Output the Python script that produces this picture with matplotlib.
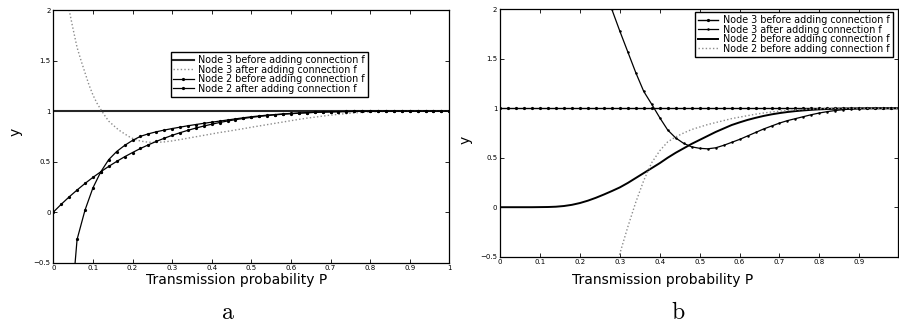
import matplotlib
matplotlib.use("Agg")
import matplotlib.pyplot as plt
from matplotlib.ticker import FuncFormatter

plt.rcParams['font.family'] = ['DejaVu Sans']
plt.rcParams['mathtext.fontset'] = 'cm'

# transmission probability grid (step 0.02)
p_grid = [0.00, 0.02, 0.04, 0.06, 0.08, 0.10, 0.12, 0.14, 0.16, 0.18,
          0.20, 0.22, 0.24, 0.26, 0.28, 0.30, 0.32, 0.34, 0.36, 0.38,
          0.40, 0.42, 0.44, 0.46, 0.48, 0.50, 0.52, 0.54, 0.56, 0.58,
          0.60, 0.62, 0.64, 0.66, 0.68, 0.70, 0.72, 0.74, 0.76, 0.78,
          0.80, 0.82, 0.84, 0.86, 0.88, 0.90, 0.92, 0.94, 0.96, 0.98, 1.00]

# --- panel a ---
a_node3_before = [1.0] * len(p_grid)

a_node3_after_p = [0.03, 0.04, 0.05, 0.06, 0.07, 0.08, 0.09, 0.10, 0.11, 0.12,
                   0.13, 0.14, 0.15, 0.16, 0.17, 0.18, 0.19, 0.20] + p_grid[11:]
a_node3_after = [2.30, 2.00, 1.81, 1.63, 1.50, 1.38, 1.26, 1.16, 1.08, 1.015,
                 0.955, 0.90, 0.865, 0.83, 0.80, 0.775, 0.75, 0.73,
                 0.703, 0.692, 0.690, 0.695, 0.705, 0.718, 0.732, 0.746, 0.76, 0.774,
                 0.788, 0.80, 0.813, 0.826, 0.84, 0.853, 0.866, 0.879, 0.892, 0.905,
                 0.918, 0.93, 0.94, 0.95, 0.96, 0.968, 0.975, 0.982, 0.988, 0.992,
                 0.995, 0.997, 0.998, 0.999, 1.0, 1.0, 1.0, 1.0, 1.0, 1.0]

a_node2_before = [0.000, 0.078, 0.151, 0.219, 0.284, 0.344, 0.400, 0.453, 0.502, 0.548,
                  0.590, 0.630, 0.666, 0.700, 0.731, 0.760, 0.786, 0.810, 0.832, 0.852,
                  0.870, 0.887, 0.902, 0.915, 0.927, 0.938, 0.947, 0.955, 0.963, 0.969,
                  0.974, 0.979, 0.983, 0.987, 0.990, 0.992, 0.994, 0.995, 0.997, 0.998,
                  0.998, 0.999, 0.999, 1.0, 1.0, 1.0, 1.0, 1.0, 1.0, 1.0, 1.0]

a_node2_after = [-4.0, -1.20, -0.27, 0.02, 0.24, 0.40, 0.52, 0.60, 0.66,
                 0.71, 0.75, 0.775, 0.795, 0.812, 0.827, 0.841, 0.855, 0.867, 0.879,
                 0.890, 0.901, 0.912, 0.923, 0.934, 0.944, 0.952, 0.960, 0.966, 0.972,
                 0.977, 0.981, 0.985, 0.988, 0.991, 0.993, 0.995, 0.996, 0.997, 0.998,
                 0.999, 0.999, 1.0, 1.0, 1.0, 1.0, 1.0, 1.0, 1.0, 1.0, 1.0]

# --- panel b ---
b_node3_before = [1.0] * len(p_grid)

b_node3_after = [2.55, 2.25, 2.00, 1.78, 1.57, 1.36, 1.17, 1.04, 0.905, 0.78,
                 0.70, 0.645, 0.61, 0.595, 0.59, 0.60, 0.625, 0.655, 0.685, 0.72,
                 0.755, 0.79, 0.82, 0.85, 0.875, 0.895, 0.915, 0.935, 0.952, 0.966,
                 0.977, 0.986, 0.992, 0.996, 0.998, 0.999, 1.0, 1.0, 1.0]

b_node2_before = [0.0, 0.0, 0.0, 0.0, 0.0, 0.001, 0.002, 0.005, 0.012, 0.024,
                  0.042, 0.066, 0.095, 0.128, 0.163, 0.20, 0.245, 0.295, 0.345, 0.395,
                  0.445, 0.50, 0.55, 0.595, 0.64, 0.68, 0.72, 0.76, 0.795, 0.83,
                  0.857, 0.882, 0.903, 0.922, 0.938, 0.951, 0.962, 0.971, 0.978, 0.984,
                  0.989, 0.992, 0.995, 0.997, 0.998, 0.999, 1.0, 1.0, 1.0, 1.0, 1.0]

b_node2_dotted = [-0.80, -0.47, -0.20, 0.05, 0.27, 0.45, 0.57, 0.66, 0.71, 0.75,
                  0.785, 0.81, 0.835, 0.855, 0.875, 0.895, 0.91, 0.925, 0.94, 0.952,
                  0.962, 0.97, 0.977, 0.983, 0.988, 0.992, 0.995, 0.997, 0.998, 0.999,
                  1.0, 1.0, 1.0, 1.0, 1.0, 1.0, 1.0]

x_ticks_a = [0, 0.1, 0.2, 0.3, 0.4, 0.5, 0.6, 0.7, 0.8, 0.9, 1.0]
x_ticks_b = [0, 0.1, 0.2, 0.3, 0.4, 0.5, 0.6, 0.7, 0.8, 0.9]
y_ticks = [-0.5, 0, 0.5, 1, 1.5, 2]

dotted = (0, (1, 1.6))
mk = dict(marker='.', markersize=2.6)
fmt = FuncFormatter(lambda v, pos: ('%g' % v).replace('-', '\u2212'))

fig = plt.figure(figsize=(8.99, 3.23), dpi=100)
ax1 = fig.add_axes([0.0593, 0.1867, 0.4405, 0.7823])
ax2 = fig.add_axes([0.5562, 0.2053, 0.4432, 0.766])

ax1.plot(p_grid, a_node3_before, color='0.15', lw=1.5, label='Node 3 before adding connection f')
ax1.plot(a_node3_after_p, a_node3_after, color='0.55', lw=1.0, ls=dotted, label='Node 3 after adding connection f')
ax1.plot(p_grid, a_node2_before, color='k', lw=0.9, label='Node 2 before adding connection f', **mk)
ax1.plot(p_grid[1:], a_node2_after, color='k', lw=0.9, label='Node 2 after adding connection f', **mk)
ax1.set_xlim(0, 1)
ax1.set_xticks(x_ticks_a)

ax2.plot(p_grid, b_node3_before, color='k', lw=1.0, label='Node 3 before adding connection f', **mk)
ax2.plot(p_grid[12:], b_node3_after, color='k', lw=0.9, label='Node 3 after adding connection f',
         marker='.', markersize=1.6)
ax2.plot(p_grid, b_node2_before, color='k', lw=1.4, label='Node 2 before adding connection f')
ax2.plot(p_grid[14:], b_node2_dotted, color='0.55', lw=1.0, ls=dotted, label='Node 2 before adding connection f')
ax2.set_xlim(0, 0.998)
ax2.set_xticks(x_ticks_b)

for ax in (ax1, ax2):
    ax.set_ylim(-0.5, 2)
    ax.set_yticks(y_ticks)
    ax.xaxis.set_major_formatter(fmt)
    ax.yaxis.set_major_formatter(fmt)
    ax.tick_params(direction='in', top=True, right=True, length=3, width=0.6,
                   labelsize=5, pad=2)
    for s in ax.spines.values():
        s.set_linewidth(0.9)
    ax.set_xlabel('Transmission probability P', fontsize=10)
    ax.set_ylabel('y', fontsize=10)

ax1.xaxis.set_label_coords(0.464, -0.041)
ax1.yaxis.set_label_coords(-0.077, 0.517)
ax2.xaxis.set_label_coords(0.408, -0.066)
ax2.yaxis.set_label_coords(-0.068, 0.472)

leg_kw = dict(loc='upper left', fontsize=6.9, frameon=True, fancybox=False,
              edgecolor='k', framealpha=1, borderaxespad=0, labelspacing=-0.05,
              handlelength=2.1, handletextpad=0.5, borderpad=0.3)
l1 = ax1.legend(bbox_to_anchor=(0.296, 0.833), **leg_kw)
l2 = ax2.legend(bbox_to_anchor=(0.490, 0.988), **leg_kw)
for lg in (l1, l2):
    lg.get_frame().set_linewidth(1.0)

fig.text(0.2536, 0.034, r'$\mathrm{a}$', fontsize=17, ha='center', va='center')
fig.text(0.7542, 0.034, r'$\mathrm{b}$', fontsize=17, ha='center', va='center')

fig.savefig('out.png', dpi=100)
